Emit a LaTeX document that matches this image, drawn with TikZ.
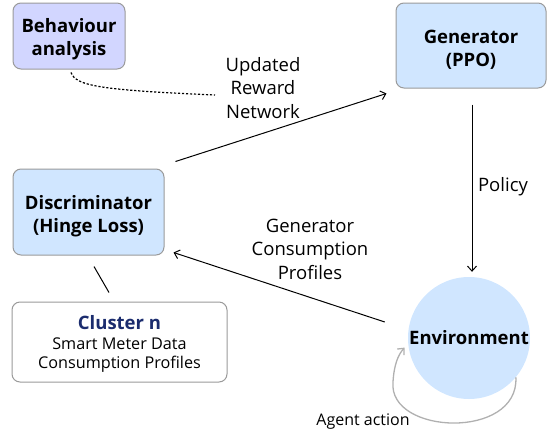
\documentclass[tikz,border=0pt]{standalone}
\usepackage{fontspec}
\setmainfont{Open Sans}
\usetikzlibrary{arrows.meta,calc}
\definecolor{lav}{HTML}{D2D6FF}
\definecolor{lblue}{HTML}{D0E6FF}
\definecolor{bord}{HTML}{9A9A9A}
\definecolor{navy}{HTML}{1B2C6E}
\definecolor{loopgray}{HTML}{B0B0B0}
\begin{document}
\begin{tikzpicture}[x=1pt,y=-1pt,
  box/.style={draw=bord,line width=1pt,rounded corners=8pt,inner sep=0pt},
  boldtxt/.style={font=\fontsize{18.5}{23}\selectfont\bfseries,align=center},
  lbl/.style={font=\fontsize{18.5}{23.5}\selectfont,align=center},
  arr/.style={-{Straight Barb[length=5pt,width=9pt]},line width=1pt}]
\useasboundingbox (0,0) rectangle (547,432);
\node[box,fill=lav,minimum width=112pt,minimum height=66pt] (beh) at (69,36) {};
\node[boldtxt] (behtxt) at (69,39.5) {Behaviour\\analysis};
\node[box,fill=lblue,minimum width=150pt,minimum height=85pt] (gen) at (471,45.5) {};
\node[boldtxt] (gentxt) at (471,49.5) {Generator\\(PPO)};
\node[box,fill=lblue,minimum width=151pt,minimum height=86pt] (disc) at (88.5,212) {};
\node[boldtxt] (disctxt) at (88.5,216) {Discriminator\\(Hinge Loss)};
\node[box,fill=white,minimum width=215pt,minimum height=80pt] (clus) at (119.5,342) {};
\node[font=\fontsize{18.5}{20}\selectfont\bfseries,text=navy] (clust) at (119.5,323) {Cluster n};
\node[font=\fontsize{16.2}{19}\selectfont,align=center] (clusd) at (119.5,355.5) {Smart Meter Data\\Consumption Profiles};
\node[circle,fill=lblue,minimum size=122pt,inner sep=0pt,font=\fontsize{18.5}{20}\selectfont\bfseries] (env) at (469,338) {Environment};
% labels
\node[lbl] (upd) at (263,88) {Updated\\Reward\\Network};
\node[lbl] (gcp) at (310,249) {Generator\\Consumption\\Profiles};
\node[lbl] (pol) at (503,187) {Policy};
\node[font=\fontsize{16}{19}\selectfont] (agt) at (363,422) {Agent action};
% connectors
\coordinate (dend) at (215,95);
\draw[line width=1.2pt,dash pattern=on 2.2pt off 1.8pt] ([xshift=2pt,yshift=-3pt]beh.south) .. controls (76,86) and (100,90) .. (dend);
\draw[arr] ([xshift=11pt,yshift=7pt]disc.north east) -- ([xshift=-9pt,yshift=-5pt]gen.south west);
\draw[arr,shorten <=16pt,shorten >=5pt] ([xshift=1pt]gen.south) -- ([xshift=3pt]env.north);
\draw[arr] ([xshift=-23pt,yshift=16pt]env.west) -- ([xshift=9pt,yshift=3pt]disc.south east);
\draw[line width=1pt] ([xshift=5.5pt,yshift=-11pt]disc.south) -- ([xshift=-10.5pt,yshift=9pt]clus.north);
\draw[-{Straight Barb[length=5pt,width=9pt]},line width=1.3pt,draw=loopgray] (env.-40) .. controls (519,440) and (388,435) .. (393,382) .. controls (394,365) and (398,355) .. ([xshift=-4pt]env.-171);
\end{tikzpicture}
\end{document}
